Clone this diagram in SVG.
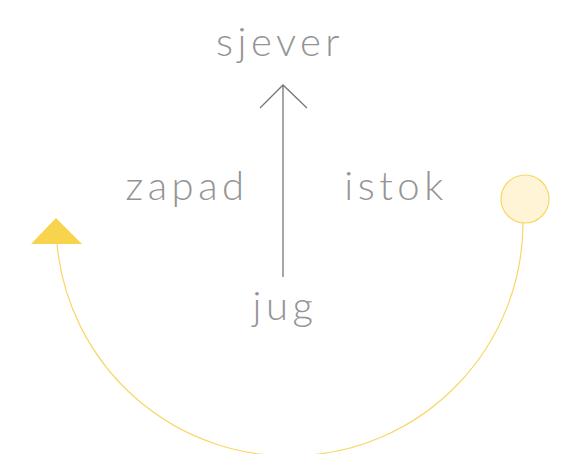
<svg xmlns="http://www.w3.org/2000/svg" width="580" height="454" viewBox="0 0 580 454">
<style>
.t{font-family:Lato,"Open Sans",sans-serif;font-weight:300;font-size:40px;fill:#949494;letter-spacing:4.5px}
</style>
<rect width="580" height="454" fill="#fff"/>
<g id="connectors" fill="none">
<path d="M 523 223 A 233.5 233.5 0 0 1 57 244" stroke="#f8d764" stroke-width="1.2"/>
<path d="M 283 277 L 283 85 M 260 108 L 283 85 L 307 108" stroke="#777" stroke-width="1.3"/>
</g>
<g id="sjever"><text class="t" x="280" y="56" text-anchor="middle">sjever</text></g>
<g id="zapad"><text class="t" x="187" y="200" text-anchor="middle">zapad</text></g>
<g id="istok"><text class="t" x="396" y="200" text-anchor="middle">istok</text></g>
<g id="jug"><text class="t" x="285" y="320" text-anchor="middle">jug</text></g>
<g id="sun"><circle cx="525" cy="199" r="24" fill="#fff4d6" stroke="#f8d764" stroke-width="1.2"/></g>
<g id="pointer"><polygon points="56,218 82,244 31,244" fill="#f8d44e"/></g>
</svg>
